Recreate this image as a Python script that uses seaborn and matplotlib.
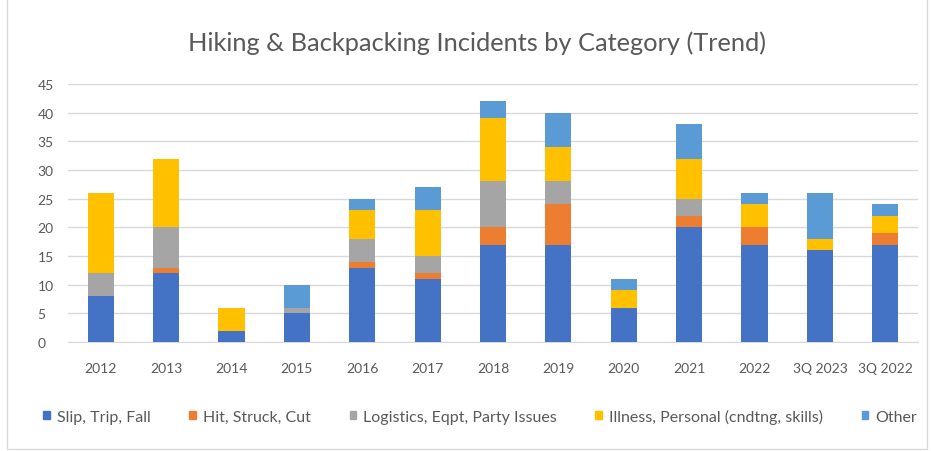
import matplotlib
matplotlib.use('Agg')
import matplotlib.pyplot as plt
import matplotlib.patches as mpatches
import seaborn as sns
import numpy as np

years = ['2012', '2013', '2014', '2015', '2016', '2017', '2018', '2019', '2020', '2021', '2022', '3Q 2023', '3Q 2022']
slip = [8, 12, 2, 5, 13, 11, 17, 17, 6, 20, 17, 16, 17]
hit = [0, 1, 0, 0, 1, 1, 3, 7, 0, 2, 3, 0, 2]
logistics = [4, 7, 0, 1, 4, 3, 8, 4, 0, 3, 0, 0, 0]
illness = [14, 12, 4, 0, 5, 8, 11, 6, 3, 7, 4, 2, 3]
other = [0, 0, 0, 4, 2, 4, 3, 6, 2, 6, 2, 8, 2]

labels = ['Slip, Trip, Fall', 'Hit, Struck, Cut', 'Logistics, Eqpt, Party Issues',
          'Illness, Personal (cndtng, skills)', 'Other']
colors = ['#4472C4', '#ED7D31', '#A5A5A5', '#FFC000', '#5B9BD5']

sns.set_style('white')
plt.rcParams['font.family'] = ['Lato', 'DejaVu Sans']

fig = plt.figure(figsize=(9.31, 4.52), dpi=100)
ax = fig.add_axes([0.073, 0.241, 0.913, 0.571])

series = [slip, hit, logistics, illness, other]
cum = np.cumsum(np.array(series), axis=0)

# top layer first, lower layers painted over it
for i in range(len(series) - 1, -1, -1):
    sns.barplot(x=years, y=cum[i], color=colors[i], width=0.4, saturation=1,
                ax=ax, linewidth=0, zorder=3)

ax.set_ylim(0, 45)
ax.set_yticks(range(0, 46, 5))
ax.yaxis.grid(True, color='#D9D9D9', linewidth=1, zorder=0)
ax.set_axisbelow(True)
for s in ['top', 'right', 'left']:
    ax.spines[s].set_visible(False)
ax.spines['bottom'].set_color('#D9D9D9')
ax.tick_params(axis='both', length=0, colors='#595959', labelsize=10)
ax.tick_params(axis='y', pad=22)
ax.tick_params(axis='x', pad=14)
for t in ax.get_yticklabels():
    t.set_horizontalalignment('left')
ax.set_xlabel('')
ax.set_ylabel('')
ax.set_xlim(-0.5, len(years) - 0.5)

fig.text(0.512, 0.905, 'Hiking & Backpacking Incidents by Category (Trend)',
         ha='center', va='center', fontsize=18.3, color='#595959')

handles = [mpatches.Patch(color=c, label=l) for c, l in zip(colors, labels)]
leg = fig.legend(handles=handles, loc='center', bbox_to_anchor=(0.516, 0.077), ncol=5,
                 frameon=False, fontsize=11.5, handlelength=0.42, handleheight=0.42,
                 handletextpad=0.45, columnspacing=2.4, borderpad=0, borderaxespad=0)
for t in leg.get_texts():
    t.set_color('#595959')

fig.patches.append(mpatches.Rectangle((0.008, 0.004), 0.988, 1.1, transform=fig.transFigure,
                                      fill=False, edgecolor='#D9D9D9', linewidth=1))

fig.savefig('out.png', dpi=100)
